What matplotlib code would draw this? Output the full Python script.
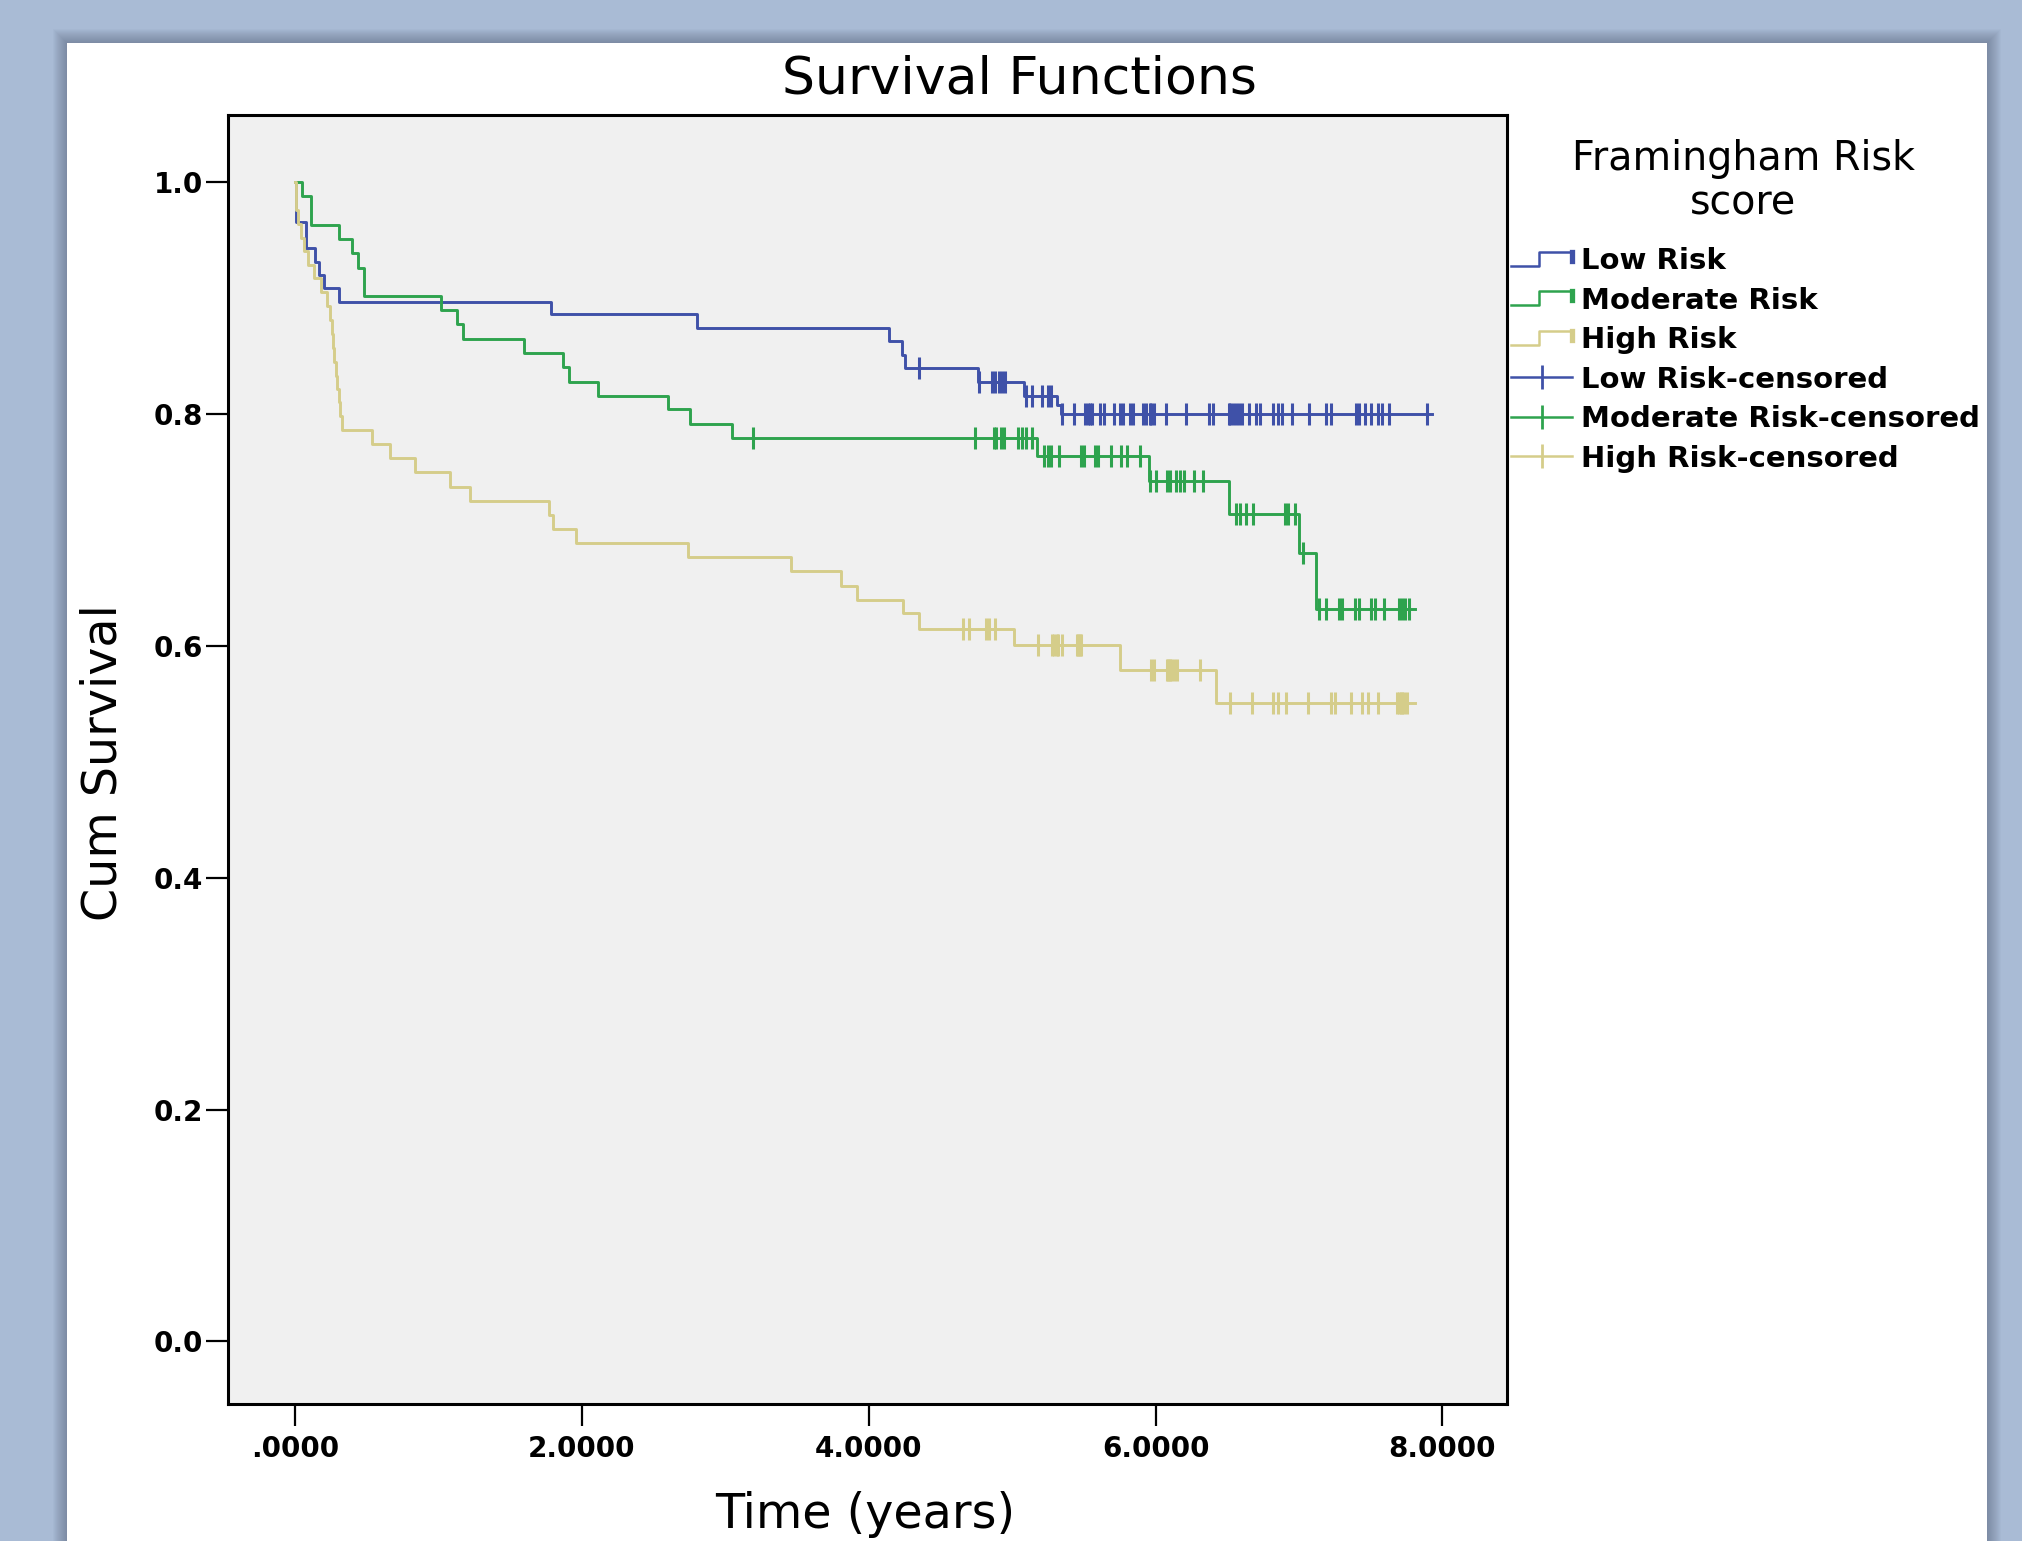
import matplotlib
matplotlib.use("Agg")
import matplotlib.pyplot as plt
import numpy as np
from matplotlib.lines import Line2D
from matplotlib.legend_handler import HandlerBase
from matplotlib.patches import Rectangle

# Kaplan-Meier curves: event times (years) and survival after each event
low_times = [0.01, 0.08, 0.14, 0.17, 0.20, 0.31, 1.785, 2.805, 4.14, 4.23, 4.25, 4.76, 5.08, 5.31, 5.34]
low_surv = [0.966, 0.943, 0.931, 0.920, 0.909, 0.897, 0.886, 0.874, 0.863, 0.851, 0.840, 0.828, 0.816, 0.808, 0.800]
low_censored = [4.35, 4.77, 4.86, 4.88, 4.91, 4.93, 4.95, 5.10, 5.14, 5.21, 5.25, 5.27, 5.35, 5.43,
                5.51, 5.53, 5.54, 5.56, 5.61, 5.64, 5.71, 5.75, 5.77, 5.82, 5.84, 5.91, 5.93, 5.96,
                5.97, 5.99, 6.07, 6.21, 6.37, 6.40, 6.51, 6.52, 6.54, 6.56, 6.58, 6.60, 6.65, 6.70,
                6.73, 6.82, 6.85, 6.88, 6.95, 7.07, 7.19, 7.22, 7.40, 7.42, 7.46, 7.50, 7.55, 7.58,
                7.63, 7.89]
low_end = 7.93

mod_times = [0.05, 0.11, 0.31, 0.40, 0.44, 0.48, 1.016, 1.13, 1.17, 1.60, 1.87, 1.91, 2.115, 2.60,
             2.755, 3.05, 5.17, 5.955, 6.51, 7.00, 7.12]
mod_surv = [0.988, 0.963, 0.951, 0.939, 0.926, 0.902, 0.890, 0.878, 0.865, 0.853, 0.841, 0.828,
            0.816, 0.804, 0.791, 0.779, 0.764, 0.742, 0.714, 0.680, 0.632]
mod_censored = [3.196, 4.74, 4.87, 4.89, 4.92, 4.94, 5.04, 5.07, 5.10, 5.14, 5.22, 5.25, 5.27, 5.33,
                5.48, 5.50, 5.58, 5.60, 5.69, 5.76, 5.80, 5.89, 5.96, 6.00, 6.08, 6.10, 6.14, 6.17,
                6.20, 6.27, 6.33, 6.56, 6.59, 6.63, 6.68, 6.90, 6.92, 6.97, 7.03, 7.14, 7.19, 7.28,
                7.30, 7.39, 7.42, 7.50, 7.53, 7.59, 7.70, 7.72, 7.74, 7.77]
mod_end = 7.81

high_times = [0.005, 0.01, 0.02, 0.04, 0.06, 0.09, 0.13, 0.18, 0.22, 0.245, 0.255, 0.265, 0.275,
              0.285, 0.295, 0.305, 0.315, 0.325, 0.535, 0.66, 0.835, 1.08, 1.22, 1.77, 1.80, 1.96,
              2.74, 3.46, 3.81, 3.92, 4.24, 4.35, 5.01, 5.75, 6.42]
high_surv = [0.988, 0.976, 0.964, 0.952, 0.941, 0.929, 0.917, 0.905, 0.893, 0.881, 0.869, 0.857,
             0.845, 0.833, 0.822, 0.810, 0.798, 0.786, 0.774, 0.762, 0.750, 0.737, 0.725, 0.713,
             0.701, 0.689, 0.677, 0.665, 0.652, 0.640, 0.628, 0.615, 0.601, 0.579, 0.551]
high_censored = [4.66, 4.70, 4.82, 4.84, 4.88, 5.18, 5.28, 5.29, 5.31, 5.32, 5.35, 5.45, 5.46, 5.47,
                 5.48, 5.97, 5.99, 6.08, 6.09, 6.10, 6.11, 6.13, 6.15, 6.31, 6.52, 6.67, 6.82, 6.85,
                 6.91, 7.06, 7.22, 7.25, 7.36, 7.44, 7.48, 7.55, 7.68, 7.70, 7.71, 7.72, 7.73, 7.75]
high_end = 7.81

group_names = ['Low Risk', 'Moderate Risk', 'High Risk']
group_colors = ['#3f51a8', '#2ea34e', '#d5cd8a']

x_ticks = [0, 2, 4, 6, 8]
x_ticklabels = ['.0000', '2.0000', '4.0000', '6.0000', '8.0000']
y_ticks = [0.0, 0.2, 0.4, 0.6, 0.8, 1.0]
y_ticklabels = ['0.0', '0.2', '0.4', '0.6', '0.8', '1.0']

W, H = 2022, 1541
plt.rcParams['font.family'] = ['DejaVu Sans']
fig = plt.figure(figsize=(W / 100, H / 100), dpi=100, facecolor='#a9bbd5')

# soft shadow and white chart panel (behind the axes)
px0, px1, py1 = 67, 1987, 43
for k in range(14, 0, -1):
    fig.patches.append(Rectangle(((px0 - k) / W, 0), (px1 - px0 + 2 * k) / W, (H - py1 + k) / H,
                                 transform=fig.transFigure, color='#4a5568', alpha=0.035, lw=0,
                                 zorder=-5))
fig.patches.append(Rectangle((px0 / W, 0), (px1 - px0) / W, (H - py1) / H,
                             transform=fig.transFigure, color='white', lw=0, zorder=-4))

ax = fig.add_axes([228 / W, 1 - 1404 / H, (1507 - 228) / W, (1404 - 115) / H])
ax.set_facecolor('#f0f0f0')

groups = [(low_times, low_surv, low_censored, low_end),
          (mod_times, mod_surv, mod_censored, mod_end),
          (high_times, high_surv, high_censored, high_end)]

for (times, surv, cens, end), color in zip(groups, group_colors):
    xs = np.r_[0.0, times, end]
    ys = np.r_[1.0, surv, surv[-1]]
    ax.step(xs, ys, where='post', color=color, lw=2.1, zorder=3)
    idx = np.searchsorted(times, cens, side='right')
    cy = np.r_[1.0, surv][idx]
    ax.plot(cens, cy, ls='none', marker='|', ms=16, mew=2.2, color=color, zorder=4)

ax.set_xlim(-0.467, 8.45)
ax.set_ylim(-0.054, 1.058)
ax.set_xticks(x_ticks)
ax.set_xticklabels(x_ticklabels, fontweight='bold')
ax.set_yticks(y_ticks)
ax.set_yticklabels(y_ticklabels, fontweight='bold')
ax.tick_params(axis='both', direction='out', length=16, width=1.6, labelsize=20, colors='black')
ax.tick_params(axis='x', pad=6)
ax.tick_params(axis='y', pad=2)
for sp in ax.spines.values():
    sp.set_linewidth(2.2)
    sp.set_color('black')

fig.text(1019 / W, 1 - 80 / H, 'Survival Functions', ha='center', va='center', fontsize=37.5)
fig.text(865 / W, 1 - 1515 / H, 'Time (years)', ha='center', va='center', fontsize=34.3)
fig.text(103 / W, 1 - 763 / H, 'Cum Survival', ha='center', va='center', fontsize=34.3, rotation=90)
fig.text(1743 / W, 1 - 181 / H, 'Framingham Risk\nscore', ha='center', va='center',
         fontsize=28.5, linespacing=1.14, multialignment='center')


class StepIcon:
    def __init__(self, color):
        self.color = color


class StepHandler(HandlerBase):
    def create_artists(self, legend, orig_handle, xdescent, ydescent, width, height, fontsize, trans):
        x0, y0 = -xdescent, -ydescent
        xm = x0 + 0.45 * width
        lo, hi = y0 + 0.15 * height, y0 + 0.85 * height
        step = Line2D([x0, xm, xm, x0 + width], [lo, lo, hi, hi], color=orig_handle.color, lw=1.8)
        bar = Line2D([x0 + width, x0 + width], [hi, y0 + 0.4 * height], color=orig_handle.color, lw=3.8)
        step.set_transform(trans)
        bar.set_transform(trans)
        return [step, bar]


handles = [StepIcon(c) for c in group_colors]
handles += [Line2D([], [], color=c, lw=1.8, marker='|', ms=17, mew=2.0) for c in group_colors]
labels = group_names + [n + '-censored' for n in group_names]

leg = fig.legend(handles, labels, handler_map={StepIcon: StepHandler()},
                 loc='upper left', bbox_to_anchor=(1511 / W, 1 - 247 / H),
                 frameon=False, borderpad=0, borderaxespad=0, handlelength=2.1,
                 handletextpad=0.3, labelspacing=0.395, numpoints=1,
                 prop={'weight': 'bold', 'size': 21})

fig.savefig('out.png', dpi=100, facecolor=fig.get_facecolor())
